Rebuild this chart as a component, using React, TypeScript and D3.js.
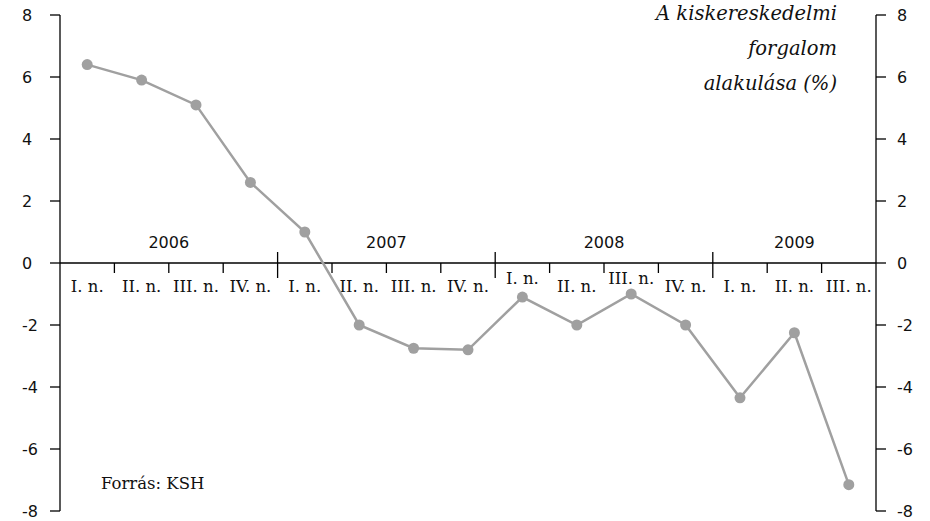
import React from "react";
import * as d3 from "d3";

const years = ["2006", "2007", "2008", "2009"];
const quarters = ["I. n.", "II. n.", "III. n.", "IV. n.", "I. n.", "II. n.", "III. n.", "IV. n.", "I. n.", "II. n.", "III. n.", "IV. n.", "I. n.", "II. n.", "III. n."];
const values = [6.4, 5.9, 5.1, 2.6, 1.0, -2.0, -2.75, -2.8, -1.1, -2.0, -1.0, -2.0, -4.35, -2.25, -7.15];
const raisedLabels = [8, 10];
const yTicks = [8, 6, 4, 2, 0, -2, -4, -6, -8];
const titleLines = ["A kiskereskedelmi", "forgalom", "alakulása (%)"];
const source = "Forrás: KSH";

const W = 930, H = 521;
const left = 60, right = 876, top = 15, bottom = 511;

export default function App() {
  const x = d3.scaleLinear().domain([0, quarters.length]).range([left, right]);
  const y = d3.scaleLinear().domain([-8, 8]).range([bottom, top]);
  const line = d3.line<number>().x((_, i) => x(i + 0.5)).y((d) => y(d));
  const y0 = y(0);
  const serif = "'DejaVu Serif', serif";
  const sans = "'DejaVu Sans', sans-serif";
  return (
    <svg width={W} height={H} style={{ position: "absolute", left: 0, top: 0, background: "#fff" }}>
      {/* axes */}
      <line x1={left} x2={left} y1={top} y2={bottom} stroke="#000" strokeWidth={1.3} />
      <line x1={right} x2={right} y1={top} y2={bottom} stroke="#000" strokeWidth={1.3} />
      {yTicks.map((t) => (
        <g key={t}>
          <line x1={left - 10} x2={left} y1={y(t)} y2={y(t)} stroke="#000" strokeWidth={1.3} />
          <line x1={right} x2={right + 10} y1={y(t)} y2={y(t)} stroke="#000" strokeWidth={1.3} />
          <text x={22} y={y(t) + 6} fontFamily={sans} fontSize={16} fill="#111">{t}</text>
          <text x={897} y={y(t) + 6} fontFamily={sans} fontSize={16} fill="#111">{t}</text>
        </g>
      ))}
      <line x1={left} x2={right} y1={y0} y2={y0} stroke="#000" strokeWidth={1.3} />
      {quarters.map((q, i) => {
        if (i === 0) return null;
        const isYear = i % 4 === 0;
        return (
          <line key={"qt" + i} x1={x(i)} x2={x(i)} y1={isYear ? y0 - 11 : y0} y2={isYear ? y0 + 15 : y0 + 10} stroke="#000" strokeWidth={1.3} />
        );
      })}
      {years.map((yr, j) => {
        const start = j * 4;
        const end = Math.min(start + 4, quarters.length);
        return (
          <text key={yr} x={(x(start) + x(end)) / 2} y={248} textAnchor="middle" fontFamily={sans} fontSize={16} fill="#111">{yr}</text>
        );
      })}
      {quarters.map((q, i) => (
        <text key={"ql" + i} x={x(i + 0.5)} y={raisedLabels.includes(i) ? 284 : 292} textAnchor="middle" fontFamily={serif} fontSize={16.5} fill="#111">{q}</text>
      ))}
      {/* series */}
      <path d={line(values) || ""} fill="none" stroke="#a0a0a0" strokeWidth={2.5} />
      {values.map((v, i) => (
        <circle key={"p" + i} cx={x(i + 0.5)} cy={y(v)} r={5.5} fill="#a0a0a0" />
      ))}
      {/* title */}
      {titleLines.map((t, i) => (
        <text key={"t" + i} x={837} y={20 + i * 35} textAnchor="end" fontFamily={serif} fontStyle="italic" fontSize={19.5} fill="#111">{t}</text>
      ))}
      <text x={101} y={489} fontFamily={serif} fontSize={16.5} fill="#111">{source}</text>
    </svg>
  );
}
